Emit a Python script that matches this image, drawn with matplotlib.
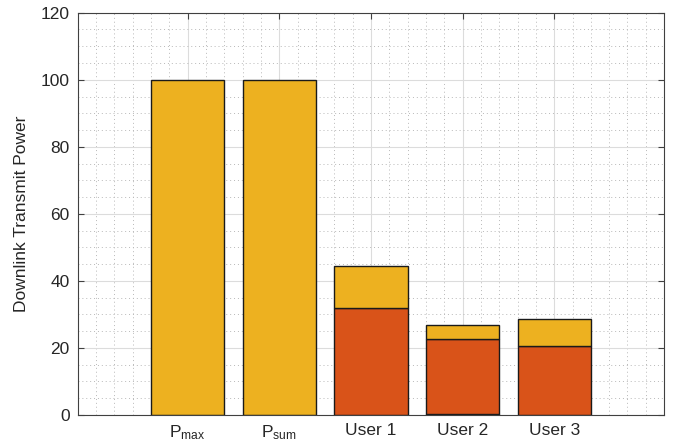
import numpy as np
import matplotlib
matplotlib.use("Agg")
import matplotlib.pyplot as plt
from matplotlib.ticker import MultipleLocator

plt.rcParams["font.family"] = ["Liberation Sans", "DejaVu Sans"]
plt.rcParams["mathtext.default"] = "regular"

# data
labels = ["P$_{max}$", "P$_{sum}$", "User 1", "User 2", "User 3"]
base_part = [0, 0, 0, 0.3, 0]          # thin sliver at the bottom of User 2
red_part = [0, 0, 31.8, 22.4, 20.6]
yellow_part = [100, 100, 12.5, 4.1, 7.9]

yellow = "#EDB120"
red = "#D95319"

x = np.arange(1, len(labels) + 1)
base_part = np.array(base_part)
red_part = np.array(red_part)
yellow_part = np.array(yellow_part)

fig = plt.figure(figsize=(6.77, 4.45), dpi=100)
ax = fig.add_axes([0.115, 0.0674, 0.866, 0.904])

ax.set_axisbelow(True)
ax.bar(x, base_part, width=0.8, color=red, edgecolor="#1a1a1a", linewidth=1)
ax.bar(x, red_part, width=0.8, bottom=base_part, color=red, edgecolor="#1a1a1a", linewidth=1)
ax.bar(x, yellow_part, width=0.8, bottom=base_part + red_part, color=yellow,
       edgecolor="#1a1a1a", linewidth=1)

ax.set_xlim(-0.2, 6.2)
ax.set_ylim(0, 120)
ax.set_xticks(x)
ax.set_xticklabels(labels)
ax.set_yticks(np.arange(0, 121, 20))
ax.xaxis.set_minor_locator(MultipleLocator(0.2))
ax.yaxis.set_minor_locator(MultipleLocator(5))

ax.grid(True, which="major", color="#dcdcdc", linewidth=0.8, linestyle="-")
ax.grid(True, which="minor", color="#b8b8b8", linewidth=0.7, linestyle=(0, (1, 3)))

ax.tick_params(which="major", direction="in", length=4, top=True, right=True,
               labelsize=12.5, color="#404040", labelcolor="#262626", pad=6)
ax.tick_params(which="minor", length=0)
for s in ax.spines.values():
    s.set_color("#404040")
    s.set_linewidth(0.8)

ax.set_ylabel("Downlink Transmit Power", fontsize=12.5, color="#262626", labelpad=8)

fig.savefig("out.png", dpi=100)
